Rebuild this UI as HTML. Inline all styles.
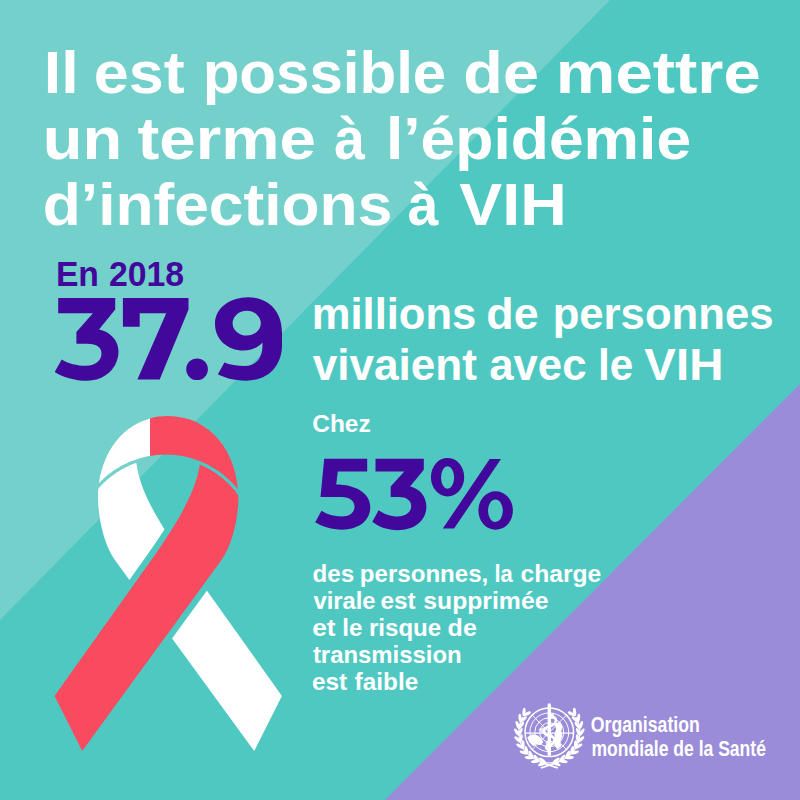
<!DOCTYPE html>
<html><head><meta charset="utf-8">
<style>
html,body{margin:0;padding:0;width:800px;height:800px;overflow:hidden;background:#50C8C2;}
svg{display:block;}
text{font-family:"Liberation Sans",sans-serif;font-weight:bold;}
</style></head>
<body>
<svg width="800" height="800" viewBox="0 0 800 800">
<defs>
<path id="wstrip" d="M98,497 C98,451.8 126.26,416 168,416 L135.8,458 C137.78,478.23 144.23,502.58 184.54,559.21 L281.9,696 L254.2,751.1 L115.07,560.21 C103.95,544.95 98,517.65 98,497 Z"/>
<path id="dome" d="M98,497 C98,451.8 126.26,416 168,416 C209.74,416 238,451.8 238,497 Z"/>
<clipPath id="belowBot"><circle cx="165.7" cy="546.65" r="89"/><rect x="0" y="546.65" width="400" height="300"/></clipPath>
<clipPath id="aboveTop"><path clip-rule="evenodd" d="M0,300 L400,300 L400,700 L0,700 Z M257.9,546.65 A92.2,92.2 0 1,0 73.5,546.65 A92.2,92.2 0 1,0 257.9,546.65 Z"/></clipPath>
<clipPath id="leftSplit"><rect x="0" y="0" width="150" height="800"/></clipPath>
<clipPath id="rightSplit"><rect x="150" y="0" width="300" height="800"/></clipPath>
<mask id="wmask" maskUnits="userSpaceOnUse" x="0" y="0" width="800" height="800">
<rect x="0" y="0" width="800" height="800" fill="#fff"/>
<use href="#wstrip" transform="translate(336.4,0) scale(-1,1)" fill="#000" stroke="#000" stroke-width="12.5" stroke-linejoin="round"/>
</mask>
</defs>
<rect x="0" y="0" width="800" height="800" fill="#50C8C2"/>
<polygon points="0,0 610,0 0,620" fill="#73D0CB"/>
<polygon points="800,384 800,800 385,800" fill="#9A8CD8"/>

<g id="ribbon">
<g clip-path="url(#belowBot)">
<use href="#wstrip" fill="#FFFFFF" mask="url(#wmask)"/>
<use href="#wstrip" transform="translate(336.4,0) scale(-1,1)" fill="#F94B60"/>
</g>
<g clip-path="url(#aboveTop)">
<use href="#dome" fill="#FFFFFF" clip-path="url(#leftSplit)"/>
<use href="#dome" fill="#F94B60" clip-path="url(#rightSplit)"/>
</g>
</g>

<g id="who" transform="translate(549.3,732.3)">
<g fill="none" stroke="#FFFFFF">
<circle r="24.3" stroke-width="1.5"/>
<circle r="19.4" stroke-width="1.0"/>
<circle r="14.5" stroke-width="1.0"/>
<circle r="9.6" stroke-width="1.0"/>
<line x1="-24.3" y1="0.8" x2="24.3" y2="0.8" stroke-width="1.2"/>
<line x1="-17.18" y1="-17.18" x2="17.18" y2="17.18" stroke-width="0.9"/>
<line x1="-17.18" y1="17.18" x2="17.18" y2="-17.18" stroke-width="0.9"/>
<path d="M1.5,-16 C9,-15 8,-8 0.5,-6 C-7,-4 -7,2 0,3.5 C7,5 7,11 0.5,12.5 C-4,13.5 -4,16 -1,17.5" stroke-width="2.6" stroke-linecap="round"/>
</g>
<g fill="#FFFFFF">
<rect x="-1.7" y="-29" width="3.4" height="52.7" rx="1.7"/>
<circle cx="2.5" cy="-16.5" r="2.2"/>
<path d="M-22,5 L-17,2 L-12,3 L-8,6 L-6,10 L-9,13 L-13,12 L-16,14 L-20,10 Z"/>
<path d="M-11,-3 L-6,-5 L-4,-1 L-7,1 Z" opacity="0.8"/>
<path d="M5,-9 L11,-10 L13,-6 L12,-1 L13,4 L11,9 L12,14 L8,17 L5,13 L6,7 L5,2 L7,-3 Z"/>
<path d="M-4,10 L2,9 L3,14 L-2,15 Z" opacity="0.8"/>
<ellipse cx="-7.28" cy="31.70" rx="4.20" ry="1.55" transform="rotate(160.0 -7.28 31.70)"/>
<ellipse cx="-6.78" cy="28.13" rx="4.20" ry="1.55" transform="rotate(216.0 -6.78 28.13)"/>
<ellipse cx="-14.17" cy="29.27" rx="4.20" ry="1.55" transform="rotate(172.9 -14.17 29.27)"/>
<ellipse cx="-12.88" cy="25.91" rx="4.20" ry="1.55" transform="rotate(228.9 -12.88 25.91)"/>
<ellipse cx="-20.34" cy="25.37" rx="4.20" ry="1.55" transform="rotate(185.8 -20.34 25.37)"/>
<ellipse cx="-18.34" cy="22.38" rx="4.20" ry="1.55" transform="rotate(241.8 -18.34 22.38)"/>
<ellipse cx="-25.49" cy="20.20" rx="4.20" ry="1.55" transform="rotate(198.7 -25.49 20.20)"/>
<ellipse cx="-22.87" cy="17.73" rx="4.20" ry="1.55" transform="rotate(254.7 -22.87 17.73)"/>
<ellipse cx="-29.35" cy="14.00" rx="4.20" ry="1.55" transform="rotate(211.6 -29.35 14.00)"/>
<ellipse cx="-26.25" cy="12.18" rx="4.20" ry="1.55" transform="rotate(267.6 -26.25 12.18)"/>
<ellipse cx="-31.74" cy="7.10" rx="4.20" ry="1.55" transform="rotate(224.4 -31.74 7.10)"/>
<ellipse cx="-28.30" cy="6.02" rx="4.20" ry="1.55" transform="rotate(280.4 -28.30 6.02)"/>
<ellipse cx="-32.52" cy="-0.15" rx="4.20" ry="1.55" transform="rotate(237.3 -32.52 -0.15)"/>
<ellipse cx="-28.93" cy="-0.45" rx="4.20" ry="1.55" transform="rotate(293.3 -28.93 -0.45)"/>
<ellipse cx="-31.67" cy="-7.40" rx="4.20" ry="1.55" transform="rotate(250.2 -31.67 -7.40)"/>
<ellipse cx="-28.10" cy="-6.89" rx="4.20" ry="1.55" transform="rotate(306.2 -28.10 -6.89)"/>
<ellipse cx="-29.22" cy="-14.28" rx="4.20" ry="1.55" transform="rotate(263.1 -29.22 -14.28)"/>
<ellipse cx="-25.86" cy="-12.99" rx="4.20" ry="1.55" transform="rotate(319.1 -25.86 -12.99)"/>
<ellipse cx="-25.30" cy="-20.44" rx="4.20" ry="1.55" transform="rotate(276.0 -25.30 -20.44)"/>
<ellipse cx="-22.31" cy="-18.43" rx="4.20" ry="1.55" transform="rotate(332.0 -22.31 -18.43)"/>
<polyline fill="none" stroke="#FFFFFF" stroke-width="1.2" points="0.0,30.6 -4.3,30.3 -8.4,29.4 -12.4,28.0 -16.2,26.0 -19.7,23.4 -22.7,20.5 -25.4,17.1 -27.5,13.4 -29.1,9.5 -30.1,5.3 -30.6,1.1 -30.4,-3.2 -29.7,-7.4 -28.4,-11.5 -26.5,-15.3"/>
<ellipse cx="7.28" cy="31.70" rx="4.20" ry="1.55" transform="rotate(20.0 7.28 31.70)"/>
<ellipse cx="6.78" cy="28.13" rx="4.20" ry="1.55" transform="rotate(-36.0 6.78 28.13)"/>
<ellipse cx="14.17" cy="29.27" rx="4.20" ry="1.55" transform="rotate(7.1 14.17 29.27)"/>
<ellipse cx="12.88" cy="25.91" rx="4.20" ry="1.55" transform="rotate(-48.9 12.88 25.91)"/>
<ellipse cx="20.34" cy="25.37" rx="4.20" ry="1.55" transform="rotate(-5.8 20.34 25.37)"/>
<ellipse cx="18.34" cy="22.38" rx="4.20" ry="1.55" transform="rotate(-61.8 18.34 22.38)"/>
<ellipse cx="25.49" cy="20.20" rx="4.20" ry="1.55" transform="rotate(-18.7 25.49 20.20)"/>
<ellipse cx="22.87" cy="17.73" rx="4.20" ry="1.55" transform="rotate(-74.7 22.87 17.73)"/>
<ellipse cx="29.35" cy="14.00" rx="4.20" ry="1.55" transform="rotate(-31.6 29.35 14.00)"/>
<ellipse cx="26.25" cy="12.18" rx="4.20" ry="1.55" transform="rotate(-87.6 26.25 12.18)"/>
<ellipse cx="31.74" cy="7.10" rx="4.20" ry="1.55" transform="rotate(-44.4 31.74 7.10)"/>
<ellipse cx="28.30" cy="6.02" rx="4.20" ry="1.55" transform="rotate(-100.4 28.30 6.02)"/>
<ellipse cx="32.52" cy="-0.15" rx="4.20" ry="1.55" transform="rotate(-57.3 32.52 -0.15)"/>
<ellipse cx="28.93" cy="-0.45" rx="4.20" ry="1.55" transform="rotate(-113.3 28.93 -0.45)"/>
<ellipse cx="31.67" cy="-7.40" rx="4.20" ry="1.55" transform="rotate(-70.2 31.67 -7.40)"/>
<ellipse cx="28.10" cy="-6.89" rx="4.20" ry="1.55" transform="rotate(-126.2 28.10 -6.89)"/>
<ellipse cx="29.22" cy="-14.28" rx="4.20" ry="1.55" transform="rotate(-83.1 29.22 -14.28)"/>
<ellipse cx="25.86" cy="-12.99" rx="4.20" ry="1.55" transform="rotate(-139.1 25.86 -12.99)"/>
<ellipse cx="25.30" cy="-20.44" rx="4.20" ry="1.55" transform="rotate(-96.0 25.30 -20.44)"/>
<ellipse cx="22.31" cy="-18.43" rx="4.20" ry="1.55" transform="rotate(-152.0 22.31 -18.43)"/>
<polyline fill="none" stroke="#FFFFFF" stroke-width="1.2" points="-0.0,30.6 4.3,30.3 8.4,29.4 12.4,28.0 16.2,26.0 19.7,23.4 22.7,20.5 25.4,17.1 27.5,13.4 29.1,9.5 30.1,5.3 30.6,1.1 30.4,-3.2 29.7,-7.4 28.4,-11.5 26.5,-15.3"/>
<path d="M-9,29 L9,35 L8,36.5 L-10,30.5 Z"/>
<path d="M9,29 L-9,35 L-8,36.5 L10,30.5 Z"/>
</g></g>
<g id="bignum" fill="#41089B" fill-rule="evenodd">
<path d="M58.2,297.9 L115.2,297.9 L115.2,309.6 L99,329.4 C109,331 118.5,340 118.5,351 C118.5,368 105,380.7 87,380.7 C75,380.7 62,377 54.7,371.9 L61.75,359.5 C68,363.5 77,365.8 86,365.8 C96,365.8 101.5,360 101.5,353.5 C101.5,347.5 97,343.7 87.5,343.7 L76.4,343.7 L76.4,332 L92.9,313.2 L58.2,313.2 Z"/>
<path d="M122.9,297.9 L188.5,297.9 L188.5,309.6 L159.7,379.5 L137.4,379.5 L166.2,313.2 L139.7,313.2 L139.7,326.7 L122.9,326.7 Z"/>
<path d="M186.20,369.25 A10.85,10.85 0 1,0 207.90,369.25 A10.85,10.85 0 1,0 186.20,369.25 Z"/>
<path d="M248.5,297.3 C266.5,297.3 282,309 282,333 L282,345 C282,366 268,380.7 246,380.7 C234,380.7 224,377.5 217.9,374.3 L224.4,362.5 C229.5,364.8 237,366 245,366 C256,366 262.5,358 262.5,345 L262.5,342.5 C257.5,348 251,350.5 243.8,350.5 C227,350.5 215,339 215,323.7 C215,308.5 229.5,297.3 248.5,297.3 Z M232.60,323.15 A14.1,12.35 0 1,0 260.80,323.15 A14.1,12.35 0 1,0 232.60,323.15 Z"/>
<path d="M324.2,458.8 L367.2,458.8 L367.2,471.4 L337.8,471.4 L336.2,484.6 C355,484.6 370.3,493 370.3,507 C370.3,521 358,529.7 342,529.7 C332,529.7 322,526.5 315.2,522.3 L321.5,510.8 C327,514.5 334,516.5 341.5,516.5 C349.5,516.5 354.5,512.5 354.5,506.8 C354.5,501 349.5,497.1 342,497.1 L320.5,497.1 Z"/>
<path d="M375.5,458.8 L423.8,458.8 L423.8,469.8 L410.1,486.6 C419,488.5 426.4,496 426.4,506.6 C426.4,520.5 414.5,530.2 397.5,530.2 C388,530.2 378.5,527 372.3,521.8 L378.6,510.2 C384,514 390.5,516.5 397.5,516.5 C406,516.5 411.2,512 411.2,506 C411.2,500.5 406.5,497.1 398.5,497.1 L390.7,497.1 L390.7,486.6 L404.3,471.4 L375.5,471.4 Z"/>
<path d="M430.90,477.20 A16.65,19.3 0 1,0 464.20,477.20 A16.65,19.3 0 1,0 430.90,477.20 Z M441.00,477.50 A6.55,11.3 0 1,0 454.10,477.50 A6.55,11.3 0 1,0 441.00,477.50 Z M489.7,459.1 L501,459.1 L454.1,528.6 L442.8,528.6 Z M478.40,510.50 A17.25,19.3 0 1,0 512.90,510.50 A17.25,19.3 0 1,0 478.40,510.50 Z M488.00,510.75 A7.4,11.25 0 1,0 502.80,510.75 A7.4,11.25 0 1,0 488.00,510.75 Z"/>
</g>

<text x="43.85" y="93.00" font-size="60.00" fill="#FFFFFF" textLength="34.98" lengthAdjust="spacingAndGlyphs">Il</text>
<text x="93.87" y="93.00" font-size="60.00" fill="#FFFFFF" textLength="90.89" lengthAdjust="spacingAndGlyphs">est</text>
<text x="202.66" y="93.00" font-size="60.00" fill="#FFFFFF" textLength="243.58" lengthAdjust="spacingAndGlyphs">possible</text>
<text x="463.38" y="93.00" font-size="60.00" fill="#FFFFFF" textLength="75.60" lengthAdjust="spacingAndGlyphs">de</text>
<text x="555.82" y="93.00" font-size="60.00" fill="#FFFFFF" textLength="204.93" lengthAdjust="spacingAndGlyphs">mettre</text>
<text x="42.74" y="159.30" font-size="60.00" fill="#FFFFFF" textLength="79.32" lengthAdjust="spacingAndGlyphs">un</text>
<text x="137.46" y="159.30" font-size="60.00" fill="#FFFFFF" textLength="178.49" lengthAdjust="spacingAndGlyphs">terme</text>
<text x="334.22" y="159.30" font-size="60.00" fill="#FFFFFF" textLength="30.73" lengthAdjust="spacingAndGlyphs">à</text>
<text x="385.94" y="159.30" font-size="60.00" fill="#FFFFFF" textLength="305.18" lengthAdjust="spacingAndGlyphs">l’épidémie</text>
<text x="42.82" y="224.70" font-size="60.00" fill="#FFFFFF" textLength="349.46" lengthAdjust="spacingAndGlyphs">d’infections</text>
<text x="407.77" y="224.70" font-size="60.00" fill="#FFFFFF" textLength="30.61" lengthAdjust="spacingAndGlyphs">à</text>
<text x="459.38" y="224.70" font-size="60.00" fill="#FFFFFF" textLength="107.47" lengthAdjust="spacingAndGlyphs">VIH</text>
<text x="55.91" y="285.60" font-size="34.50" fill="#41089B" textLength="43.04" lengthAdjust="spacingAndGlyphs">En</text>
<text x="108.89" y="285.60" font-size="34.50" fill="#41089B" textLength="75.18" lengthAdjust="spacingAndGlyphs">2018</text>
<text x="311.70" y="329.00" font-size="43.50" fill="#FFFFFF" textLength="164.60" lengthAdjust="spacingAndGlyphs">millions</text>
<text x="486.32" y="329.00" font-size="43.50" fill="#FFFFFF" textLength="52.26" lengthAdjust="spacingAndGlyphs">de</text>
<text x="552.67" y="329.00" font-size="43.50" fill="#FFFFFF" textLength="220.86" lengthAdjust="spacingAndGlyphs">personnes</text>
<text x="312.65" y="379.50" font-size="43.50" fill="#FFFFFF" textLength="164.19" lengthAdjust="spacingAndGlyphs">vivaient</text>
<text x="489.27" y="379.50" font-size="43.50" fill="#FFFFFF" textLength="97.20" lengthAdjust="spacingAndGlyphs">avec</text>
<text x="597.98" y="379.50" font-size="43.50" fill="#FFFFFF" textLength="35.24" lengthAdjust="spacingAndGlyphs">le</text>
<text x="644.35" y="379.50" font-size="43.50" fill="#FFFFFF" textLength="79.05" lengthAdjust="spacingAndGlyphs">VIH</text>
<text x="312.25" y="431.80" font-size="24.50" fill="#FFFFFF" textLength="58.40" lengthAdjust="spacingAndGlyphs">Chez</text>
<text x="312.38" y="581.60" font-size="24.50" fill="#FFFFFF" textLength="41.72" lengthAdjust="spacingAndGlyphs">des</text>
<text x="359.80" y="581.60" font-size="24.50" fill="#FFFFFF" textLength="128.50" lengthAdjust="spacingAndGlyphs">personnes,</text>
<text x="494.38" y="581.60" font-size="24.50" fill="#FFFFFF" textLength="18.27" lengthAdjust="spacingAndGlyphs">la</text>
<text x="520.47" y="581.60" font-size="24.50" fill="#FFFFFF" textLength="80.71" lengthAdjust="spacingAndGlyphs">charge</text>
<text x="313.51" y="608.70" font-size="24.50" fill="#FFFFFF" textLength="62.07" lengthAdjust="spacingAndGlyphs">virale</text>
<text x="380.48" y="608.70" font-size="24.50" fill="#FFFFFF" textLength="35.21" lengthAdjust="spacingAndGlyphs">est</text>
<text x="423.27" y="608.70" font-size="24.50" fill="#FFFFFF" textLength="125.14" lengthAdjust="spacingAndGlyphs">supprimée</text>
<text x="312.15" y="635.80" font-size="24.50" fill="#FFFFFF" textLength="23.40" lengthAdjust="spacingAndGlyphs">et</text>
<text x="342.36" y="635.80" font-size="24.50" fill="#FFFFFF" textLength="20.12" lengthAdjust="spacingAndGlyphs">le</text>
<text x="368.90" y="635.80" font-size="24.50" fill="#FFFFFF" textLength="72.35" lengthAdjust="spacingAndGlyphs">risque</text>
<text x="447.64" y="635.80" font-size="24.50" fill="#FFFFFF" textLength="29.21" lengthAdjust="spacingAndGlyphs">de</text>
<text x="312.91" y="662.90" font-size="24.50" fill="#FFFFFF" textLength="148.75" lengthAdjust="spacingAndGlyphs">transmission</text>
<text x="311.93" y="690.00" font-size="24.50" fill="#FFFFFF" textLength="35.17" lengthAdjust="spacingAndGlyphs">est</text>
<text x="354.58" y="690.00" font-size="24.50" fill="#FFFFFF" textLength="63.71" lengthAdjust="spacingAndGlyphs">faible</text>
<text x="590.82" y="732.00" font-size="22.50" fill="#FFFFFF" textLength="109.02" lengthAdjust="spacingAndGlyphs">Organisation</text>
<text x="591.43" y="756.00" font-size="22.50" fill="#FFFFFF" textLength="174.49" lengthAdjust="spacingAndGlyphs">mondiale de la Santé</text>
</svg>
</body></html>
